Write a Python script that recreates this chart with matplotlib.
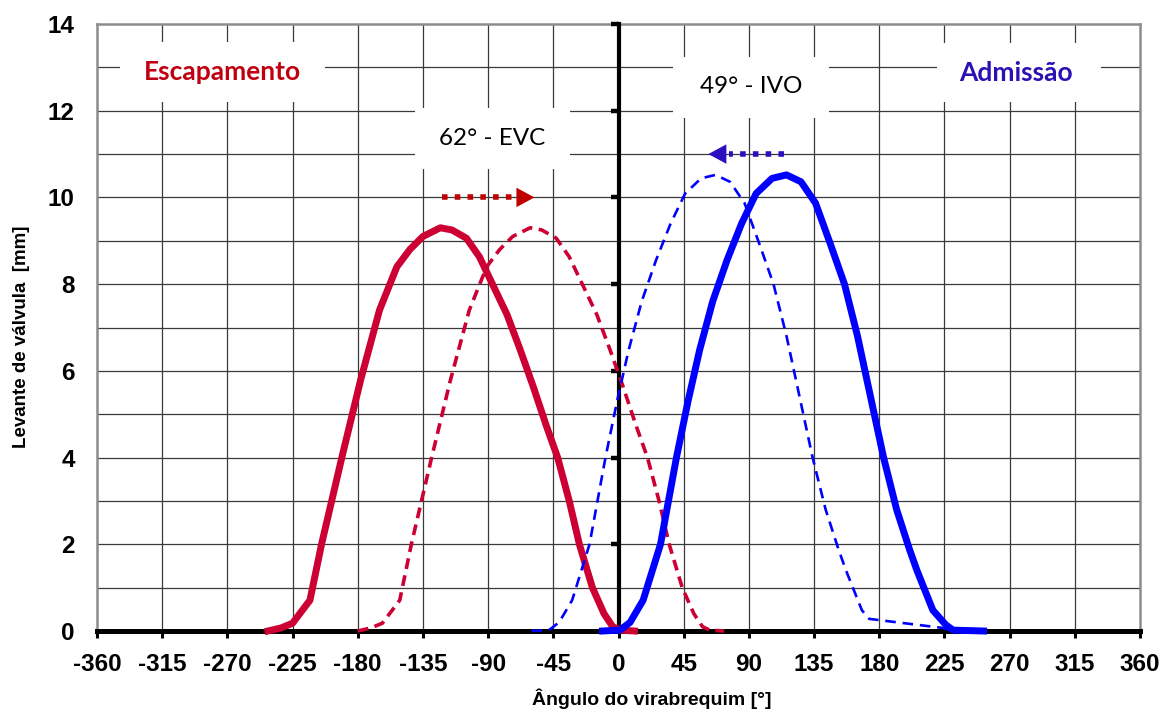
import matplotlib
matplotlib.use("Agg")
import matplotlib.pyplot as plt
from matplotlib.patches import Rectangle

plt.rcParams["axes.unicode_minus"] = False

# Escapamento (solid) e deslocado 62 graus (tracejado)
exh_x = [-242, -233, -225, -213, -205, -198, -191, -178, -165, -153, -144, -135, -123, -115,
         -105, -96, -87, -77, -68, -59, -50, -42, -34, -27, -18, -10, -4, 1, 11]
exh_y = [0, 0.07, 0.18, 0.71, 2.0, 3.0, 4.0, 5.79, 7.4, 8.4, 8.8, 9.1, 9.3, 9.25,
         9.06, 8.63, 8.0, 7.3, 6.5, 5.65, 4.75, 4.0, 3.0, 2.0, 1.0, 0.4, 0.1, 0.02, 0]
exh_shift_x = [-180, -171, -163, -151, -143, -136, -129, -116, -103, -91, -82, -73, -61, -53,
               -43, -34, -25, -15, -6, 3, 12, 20, 28, 35, 44, 52, 58, 63, 73]
exh_shift_y = exh_y

# Admissao (solid) e deslocado 49 graus (tracejado)
int_x = [-11, 1, 8, 17, 29, 40, 48, 56, 65, 75, 85, 95, 106, 116, 126, 136, 146, 156,
         165, 174, 183, 192, 201, 206, 217, 226, 231, 252]
int_y = [0, 0.02, 0.2, 0.71, 2.0, 4.0, 5.3, 6.48, 7.6, 8.56, 9.4, 10.09, 10.44, 10.52,
         10.36, 9.87, 8.95, 8.0, 6.8, 5.4, 4.0, 2.8, 1.87, 1.4, 0.48, 0.14, 0.02, 0]
int_shift_x = [-60, -48, -41, -32, -20, -9, -1, 7, 16, 26, 36, 46, 57, 67, 77, 87, 97, 107,
               116, 125, 134, 143, 152, 157, 168, 173, 224, 232]
int_shift_y = [0, 0.02, 0.2, 0.71, 2.0, 4.0, 5.3, 6.48, 7.6, 8.56, 9.4, 10.09, 10.44, 10.52,
               10.36, 9.87, 8.95, 8.0, 6.8, 5.4, 4.0, 2.8, 1.87, 1.4, 0.48, 0.28, 0.07, 0.0]

x_ticks = list(range(-360, 361, 45))
y_ticks = [0, 2, 4, 6, 8, 10, 12, 14]

# setas: (inicio, ponta, altura)
evc_arrow = (-122, -58, 10)
ivo_arrow = (114, 62, 11)

red = "#CC0033"
blue = "#0000FF"

fig = plt.figure(figsize=(11.68, 7.12), dpi=100)
ax = fig.add_axes([97 / 1168, 1 - 631 / 712, 1043 / 1168, 607 / 712])

ax.set_xlim(-360, 360)
ax.set_ylim(0, 14)

# grade
for gx in x_ticks[1:-1]:
    ax.axvline(gx, color="#3a3a3a", lw=0.9, zorder=1)
for gy in range(1, 14):
    ax.axhline(gy, color="#3a3a3a", lw=0.9, zorder=1)

# caixas brancas dos textos
boxes = [(-344, 12.2, 141.4, 1.38), (219.8, 12.2, 113.2, 1.36),
         (37.6, 11.83, 107.4, 1.41), (-140.4, 10.65, 106.9, 1.41)]
for bx, by, bw, bh in boxes:
    ax.add_patch(Rectangle((bx, by), bw, bh, facecolor="white", edgecolor="none", zorder=2))

# eixo vertical em 0
ax.plot([0, 0], [0, 14], color="black", lw=3, zorder=3, clip_on=False)
ax.plot([0] * len(y_ticks), y_ticks, linestyle="none", marker=0, color="black",
        markersize=5.5, markeredgewidth=3.2, zorder=3, clip_on=False)

ax.plot(exh_x, exh_y, color=red, lw=5, zorder=4, clip_on=False)
ax.plot(exh_shift_x, exh_shift_y, color=red, lw=2.6, linestyle=(0, (3.0, 1.8)), zorder=4, clip_on=False)
ax.plot(int_x, int_y, color=blue, lw=5, zorder=4, clip_on=False)
ax.plot(int_shift_x, int_shift_y, color=blue, lw=1.9, linestyle=(0, (4, 2.6)), zorder=4, clip_on=False)

# setas pontilhadas
for (x0, x1, ya), col in [(evc_arrow, "#C00000"), (ivo_arrow, "#2A10C0")]:
    head = 12.5 if x1 > x0 else -12.5
    ax.plot([x0, x1 - head - (2 if x1 > x0 else -2)], [ya, ya], color=col, lw=4,
            linestyle=(0, (1, 1.3)), solid_capstyle="butt", dash_capstyle="butt", zorder=5)
    ax.annotate("", xy=(x1, ya), xytext=(x1 - head, ya),
                arrowprops=dict(arrowstyle="-|>,head_length=1.3,head_width=0.7",
                                color=col, lw=0, shrinkA=0, shrinkB=0), zorder=5)

ax.text(-273.6, 12.9, "Escapamento", color="#C00010", fontsize=19, fontweight="bold",
        family="Lato", ha="center", va="center", zorder=6)
ax.text(274.3, 12.87, "Admissão", color="#2A10B5", fontsize=19, fontweight="bold",
        family="Lato", ha="center", va="center", zorder=6)
ax.text(91.4, 12.55, "49° - IVO", color="black", fontsize=17.5, family="Lato",
        ha="center", va="center", zorder=6)
ax.text(-87, 11.36, "62° - EVC", color="black", fontsize=17.5, family="Lato",
        ha="center", va="center", zorder=6)

ax.set_xticks(x_ticks)
ax.set_yticks(y_ticks)
ax.tick_params(axis="x", direction="out", length=5, width=2.2, pad=11, labelsize=17.5)
ax.tick_params(axis="y", length=0, pad=16, labelsize=17.5)
for lab in ax.get_xticklabels() + ax.get_yticklabels():
    lab.set_fontweight("bold")
    lab.set_family("Liberation Sans")

for side in ["left", "top", "right"]:
    ax.spines[side].set_color("#8c8c8c")
    ax.spines[side].set_linewidth(1.8)
ax.spines["bottom"].set_color("black")
ax.spines["bottom"].set_linewidth(3.6)

fig.text(22 / 1168, 1 - 337 / 712, "Levante de válvula  [mm]", rotation=90, fontsize=13.5,
         fontweight="bold", family="Liberation Sans", ha="center", va="center")
fig.text(652 / 1168, 1 - 699 / 712, "Ângulo do virabrequim [°]", fontsize=14,
         fontweight="bold", family="Liberation Sans", ha="center", va="center")

fig.savefig("out.png", dpi=100)
